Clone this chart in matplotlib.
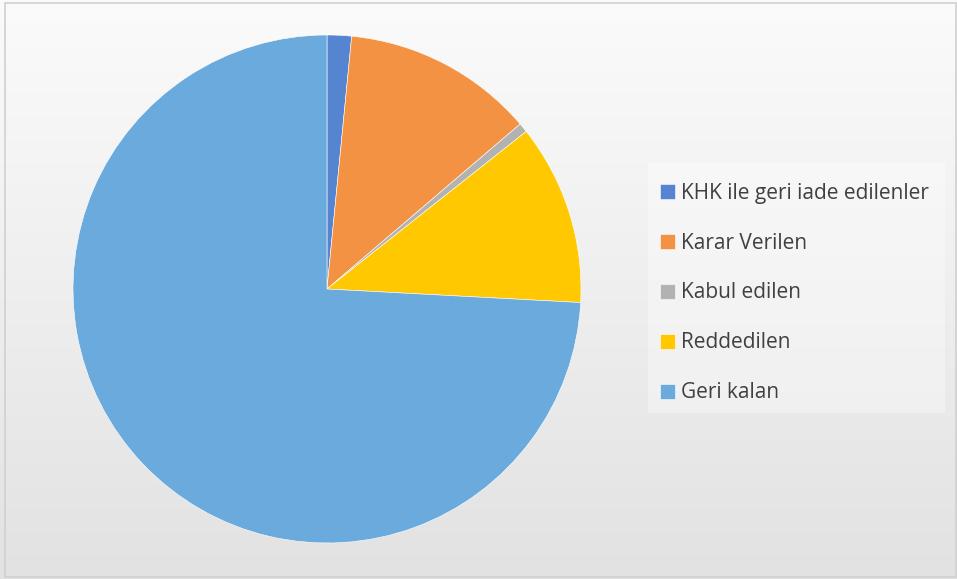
import numpy as np
import matplotlib.pyplot as plt
from matplotlib.patches import Rectangle

labels = ["KHK ile geri iade edilenler", "Karar Verilen", "Kabul edilen",
          "Reddedilen", "Geri kalan"]
values = [1.55, 12.2, 0.6, 11.5, 74.15]
colors = ["#5585D0", "#F39242", "#B2B2B2", "#FFC800", "#6AAADC"]

W, H = 957, 579
fig = plt.figure(figsize=(W / 100, H / 100), dpi=100)

# background gradient + border
bg = fig.add_axes([0, 0, 1, 1])
grad = np.linspace(0, 1, 256).reshape(-1, 1)
bg.imshow(grad, aspect="auto", cmap=plt.matplotlib.colors.LinearSegmentedColormap.from_list(
    "g", ["#FBFBFB", "#E2E2E2"]), extent=[0, 1, 0, 1], origin="upper")
bg.add_patch(Rectangle((5 / W, 2 / H), 951 / W, 574 / H, fill=False,
                       edgecolor="#D0D0D0", lw=1.2, transform=bg.transAxes))
bg.set_xlim(0, 1)
bg.set_ylim(0, 1)
bg.axis("off")

# pie
cx, cy, r = 327, 289, 254
ax = fig.add_axes([(cx - r) / W, (H - cy - r) / H, 2 * r / W, 2 * r / H])
wedges, _ = ax.pie(values, colors=colors, startangle=90, counterclock=False,
                   radius=1, wedgeprops=dict(edgecolor="white", linewidth=0.4))
ax.set_xlim(-1, 1)
ax.set_ylim(-1, 1)
ax.set_aspect("auto")
ax.axis("off")

# legend
fig.add_artist(Rectangle((648 / W, (H - 413) / H), 297 / W, 250 / H,
                         facecolor="white", alpha=0.35, edgecolor="none",
                         transform=fig.transFigure))
leg = fig.legend(wedges, labels, loc="center left",
                 bbox_to_anchor=(641 / W, (H - 293) / H),
                 frameon=False, prop={"family": "Open Sans", "size": 15},
                 labelcolor="#404040", handlelength=0.75, handleheight=0.75,
                 handletextpad=0.25, labelspacing=1.39)

fig.savefig("out.png", dpi=100)
